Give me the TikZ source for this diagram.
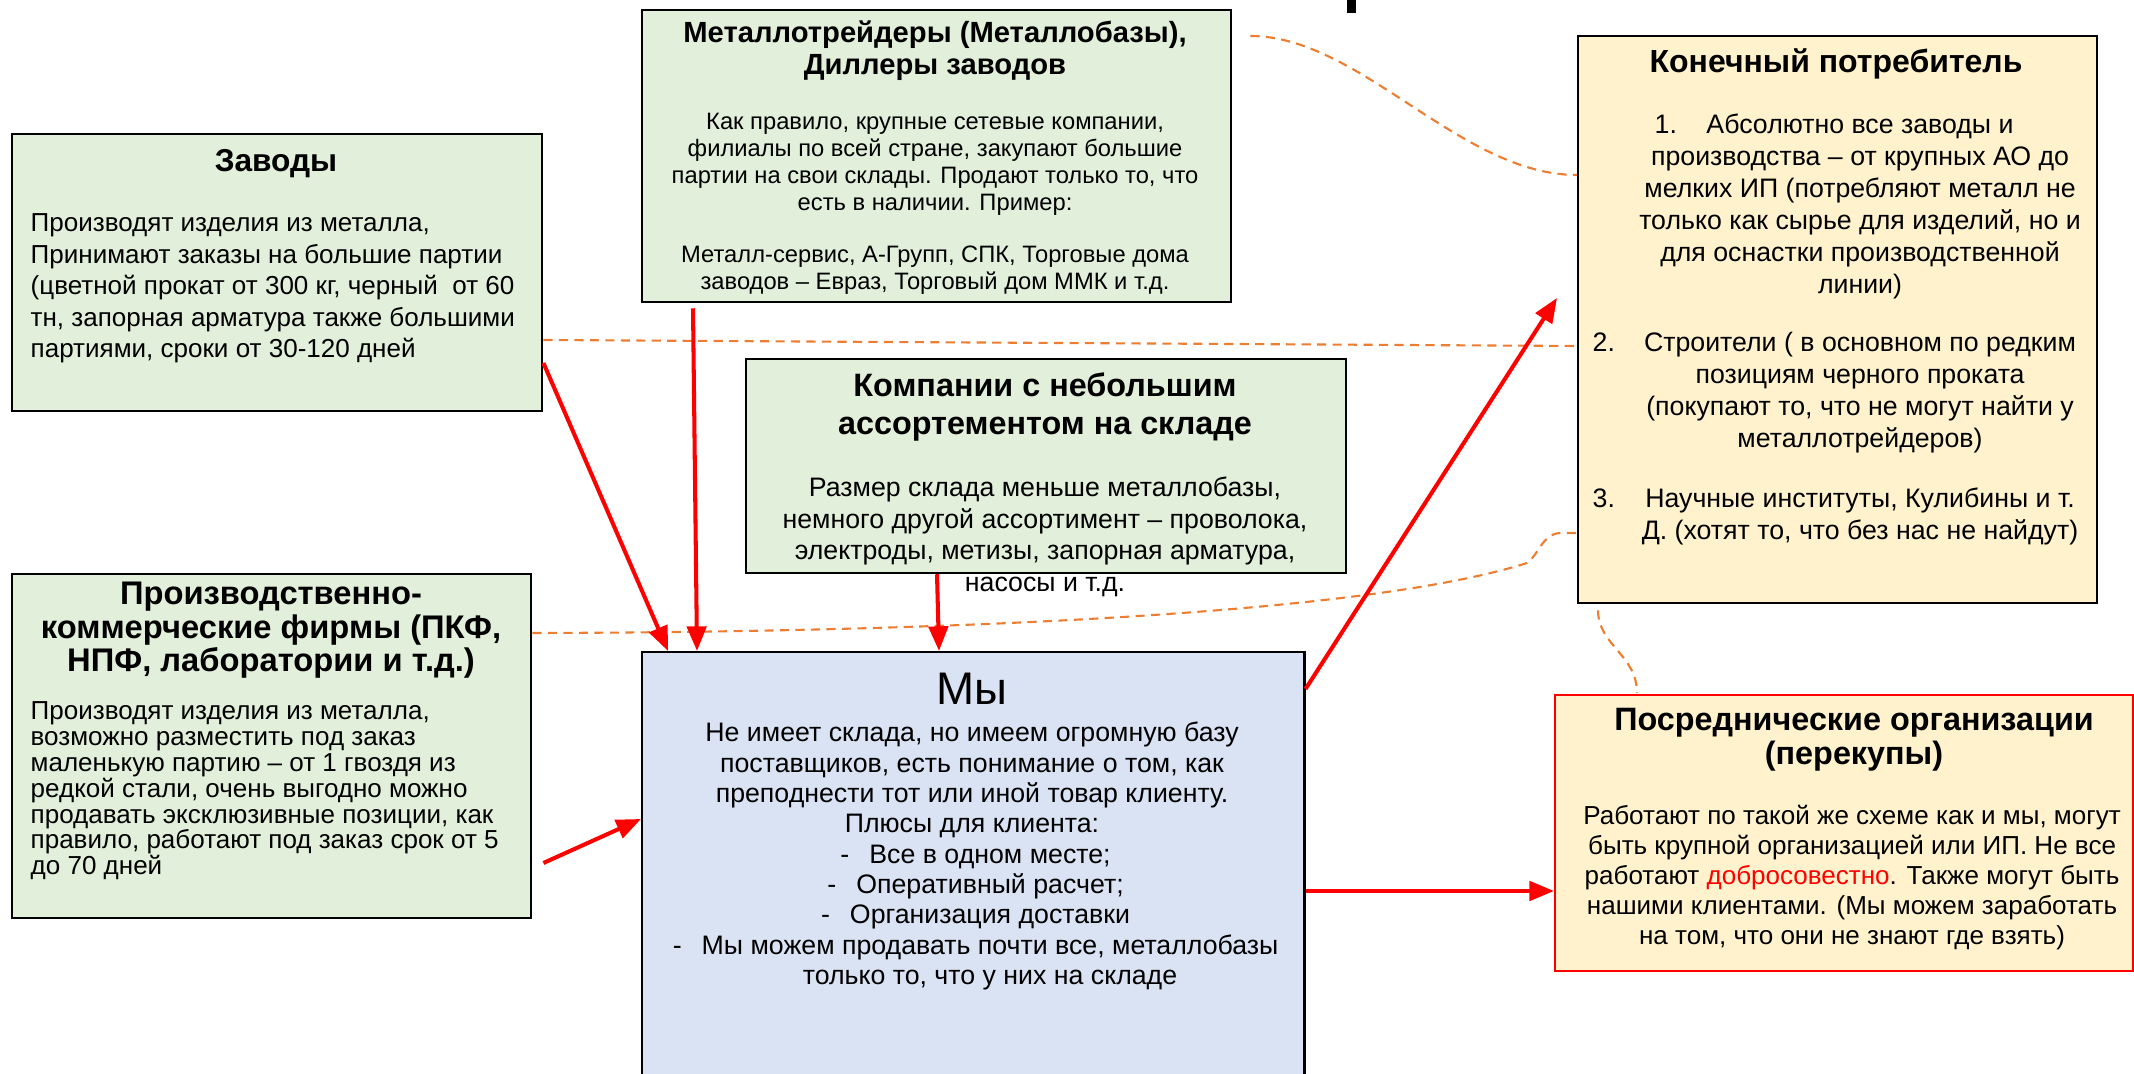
\documentclass[tikz,border=0pt]{standalone}
\usepackage{fontspec}
\setmainfont{Liberation Sans}
\usetikzlibrary{arrows.meta,calc}
\definecolor{gfill}{HTML}{E2EFDA}
\definecolor{yfill}{HTML}{FFF2CC}
\definecolor{bfill}{HTML}{DAE3F3}
\definecolor{dorange}{HTML}{ED7D31}
\definecolor{ared}{HTML}{FF0000}
\newcommand\txtblock[7]{%
  \foreach \tline [count=\ii] in {#7} {%
    \node[inner sep=0pt, anchor=#2, #6] (#1\ii) at ({#3},{#4+(\ii-1)*#5}) {\tline};
  }%
}
\newcommand\dshp{\llap{-\hspace{0.2cm}}}
\begin{document}
\begin{tikzpicture}[x=0.01cm,y=-0.01cm,
  box/.style={draw=black, line width=0.6pt, inner sep=0pt, anchor=north west},
  arr/.style={draw=ared, line width=1.15pt, -{Triangle[length=7pt,width=5.5pt]}},
  dsh/.style={draw=dorange, line width=0.6pt, dash pattern=on 2.6pt off 1.8pt},
  bodyA/.style={font=\fontsize{7.4pt}{9pt}\selectfont},
  bodyB/.style={font=\fontsize{6.75pt}{8pt}\selectfont},
  bodyC/.style={font=\fontsize{7.6pt}{9pt}\selectfont},
  bodyD/.style={font=\fontsize{7.6pt}{9pt}\selectfont},
  bodyE/.style={font=\fontsize{7.6pt}{9pt}\selectfont},
  bodyF/.style={font=\fontsize{7.4pt}{9pt}\selectfont},
  ttlA/.style={font=\fontsize{9pt}{10pt}\selectfont\bfseries},
  ttlB/.style={font=\fontsize{8.3pt}{10pt}\selectfont\bfseries},
  ttlK/.style={font=\fontsize{9.1pt}{10pt}\selectfont\bfseries},
  ttlC/.style={font=\fontsize{9.2pt}{10pt}\selectfont\bfseries},
  ttlD/.style={font=\fontsize{9.3pt}{10pt}\selectfont\bfseries},
  bigT/.style={font=\fontsize{13pt}{15pt}\selectfont}]
\useasboundingbox (0,0) rectangle (2134,1074);
% boxes
\node[box, fill=gfill, minimum width=5.30cm, minimum height=2.77cm] (zav) at (11,133) {};
\node[box, fill=gfill, minimum width=5.89cm, minimum height=2.92cm] (met) at (641,9) {};
\node[box, fill=gfill, minimum width=6.00cm, minimum height=2.14cm] (komp) at (745,358) {};
\node[box, fill=gfill, minimum width=5.19cm, minimum height=3.44cm] (pkf) at (11,573) {};
\node[box, fill=bfill, minimum width=6.62cm, minimum height=5.00cm] (my) at (641,651) {};
\node[box, fill=yfill, minimum width=5.19cm, minimum height=5.67cm] (kon) at (1577,35) {};
\node[box, fill=yfill, draw=ared, minimum width=5.78cm, minimum height=2.76cm] (pos) at (1554,694) {};
% fragment of a cut-off title
\fill[black] (1347,0) rectangle (1356,13);
% dashed links
\draw[dsh] ($(met.north east)+(18,27)$) .. controls (1360,36) and (1460,175) .. ($(kon.north west)+(0,140)$);
\draw[dsh] ($(zav.north east)+(0,207)$) -- ($(kon.north west)+(0,311)$);
\draw[dsh] ($(pkf.north east)+(0,60)$) .. controls (1000,632) and (1380,610) .. (1527,563)
  .. controls (1538,556) and (1542,534) .. (1560,533) -- ($(kon.north west)+(0,498)$);
\draw[dsh] ($(kon.south west)+(21,6)$) .. controls (1598,645) and (1637,655) .. ($(pos.north west)+(83,-1)$);
% arrows
\draw[arr] ($(zav.north east)+(0,230)$) -- ($(my.north west)+(27,0)$);
\draw[arr] ($(met.south west)+(52,5)$) -- ($(my.north west)+(56,0)$);
\draw[arr] ($(komp.south west)+(192,0)$) -- ($(my.north west)+(298,0)$);
\draw[arr] ($(pkf.north east)+(11,290)$) -- ($(my.north west)+(0,168)$);
\draw[arr] ($(my.north east)+(0,38)$) -- ($(kon.north west)+(-20,263)$);
\draw[arr] ($(my.north east)+(0,240)$) -- ($(pos.north west)+(0,197)$);
% texts: Заводы
\node[inner sep=0pt, anchor=base, ttlA] (zavT) at (276,172) {Заводы};
\txtblock{zavB}{base west}{30}{232}{31.5}{bodyA}{{Производят изделия из металла,},{Принимают заказы на большие партии},{(цветной прокат от 300 кг, черный~ от 60},{тн, запорная арматура также большими},{партиями, сроки от 30-120 дней}}
% Металлотрейдеры
\txtblock{metT}{base}{935}{43}{32}{ttlB}{{Металлотрейдеры (Металлобазы),},{Диллеры заводов}}
\txtblock{metB}{base}{935}{130}{26.7}{bodyB}{{Как правило, крупные сетевые компании,},{филиалы по всей стране, закупают большие},{партии на свои склады. Продают только то, что},{есть в наличии. Пример:}}
\txtblock{metC}{base}{935}{263}{26.7}{bodyB}{{Металл-сервис, А-Групп, СПК, Торговые дома},{заводов – Евраз, Торговый дом ММК и т.д.}}
% Компании
\txtblock{kompT}{base}{1045}{397}{38}{ttlC}{{Компании с небольшим},{ассортементом на складе}}
\txtblock{kompB}{base}{1045}{497}{31.5}{bodyC}{{Размер склада меньше металлобазы,},{немного другой ассортимент – проволока,},{электроды, метизы, запорная арматура,},{насосы и т.д.}}
% ПКФ
\txtblock{pkfT}{base}{271}{605}{33.5}{ttlD}{{Производственно-},{коммерческие фирмы (ПКФ,},{НПФ, лаборатории и т.д.)}}
\txtblock{pkfB}{base west}{30}{720}{25.8}{bodyA}{{Производят изделия из металла,},{возможно разместить под заказ},{маленькую партию – от 1 гвоздя из},{редкой стали, очень выгодно можно},{продавать эксклюзивные позиции, как},{правило, работают под заказ срок от 5},{до 70 дней}}
% Мы
\node[inner sep=0pt, anchor=base, bigT] (myT) at (972,705) {Мы};
\txtblock{myB}{base}{972}{742}{30.3}{bodyD}{{Не имеет склада, но имеем огромную базу},{поставщиков, есть понимание о том, как},{преподнести тот или иной товар клиенту.},{Плюсы для клиента:}}
\txtblock{myL}{base}{990}{863.2}{30.3}{bodyD}{{\dshp Все в одном месте;},{\dshp Оперативный расчет;},{\dshp Организация доставки},{\dshp Мы можем продавать почти все, металлобазы},{только то, что у них на складе}}
% Конечный потребитель
\node[inner sep=0pt, anchor=base, ttlK] (konT) at (1836,73) {Конечный потребитель};
\node[inner sep=0pt, anchor=base west, bodyE] (konN1) at (1654,134) {1.};
\txtblock{konA}{base}{1860}{134}{32}{bodyE}{{Абсолютно все заводы и},{производства – от крупных АО до},{мелких ИП (потребляют металл не},{только как сырье для изделий, но и},{для оснастки производственной},{линии)}}
\node[inner sep=0pt, anchor=base west, bodyE] (konN2) at (1592,352) {2.};
\txtblock{konB}{base}{1860}{352}{32}{bodyE}{{Строители ( в основном по редким},{позициям черного проката},{(покупают то, что не могут найти у},{металлотрейдеров)}}
\node[inner sep=0pt, anchor=base west, bodyE] (konN3) at (1592,508) {3.};
\txtblock{konC}{base}{1860}{508}{32}{bodyE}{{Научные институты, Кулибины и т.},{Д. (хотят то, что без нас не найдут)}}
% Посреднические
\txtblock{posT}{base}{1854}{731}{34}{ttlC}{{Посреднические организации},{(перекупы)}}
\txtblock{posB}{base}{1852}{825}{30}{bodyF}{{Работают по такой же схеме как и мы, могут},{быть крупной организацией или ИП. Не все},{работают \textcolor{ared}{добросовестно}. Также могут быть},{нашими клиентами. (Мы можем заработать},{на том, что они не знают где взять)}}
\end{tikzpicture}
\end{document}
